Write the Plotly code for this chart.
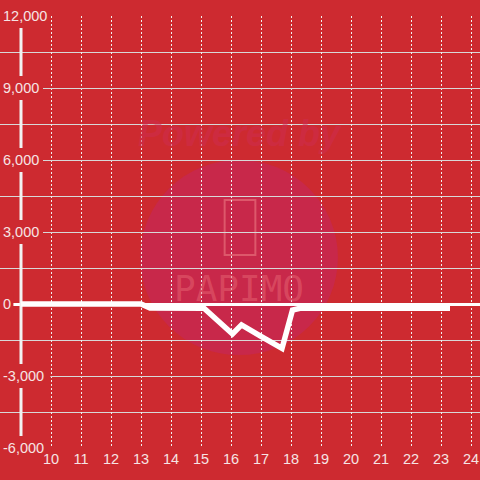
import plotly.graph_objects as go

RED_BG = '#CD2A30'
WHITE = '#FFFFFF'
LABEL = '#F6E4E4'
GRID = '#D8D8D8'

# hour of day vs value
hours = [9.0, 13.0, 13.3, 15.1, 16.05, 16.35, 17.0, 17.7, 18.05, 18.3, 23.3]
values = [0, 0, -170, -180, -1250, -870, -1350, -1850, -250, -180, -180]

x_ticks = list(range(10, 25))
y_ticks = [-6000, -3000, 0, 3000, 6000, 9000, 12000]
y_labels = ['-6,000', '-3,000', '0', '3,000', '6,000', '9,000', '12,000']

X_MIN, X_MAX = 8.3, 24.3
AXIS_X = 9.0

fig = go.Figure()

fig.add_trace(go.Scatter(
    x=hours, y=values,
    mode='lines',
    line=dict(color=WHITE, width=5.5),
    hoverinfo='skip',
    showlegend=False
))

shapes = []

# watermark circle
shapes.append(dict(type='circle', xref='paper', yref='paper',
                   x0=0.292, x1=0.704, y0=0.215, y1=0.667,
                   fillcolor='#C8284A', line=dict(width=0), layer='below'))
# watermark phone outline
shapes.append(dict(type='rect', xref='paper', yref='paper',
                   x0=0.468, x1=0.532, y0=0.447, y1=0.574,
                   fillcolor='rgba(0,0,0,0)', line=dict(color='rgba(235,120,130,0.6)', width=2),
                   layer='below'))

# y axis line
shapes.append(dict(type='line', xref='x', yref='y', x0=AXIS_X, x1=AXIS_X,
                   y0=-6000, y1=12000, line=dict(color='#F2F2F2', width=3), layer='between'))

# red boxes behind the y tick labels
for v, lab in zip(y_ticks, y_labels):
    w = (len(lab) * 7.4 + 6) / 30
    shapes.append(dict(type='rect', xref='x', yref='y', x0=X_MIN, x1=X_MIN + w,
                       y0=v - 500, y1=v + 500, fillcolor=RED_BG,
                       line=dict(width=0), layer='between'))

fig.update_layout(
    width=480, height=480,
    paper_bgcolor=RED_BG,
    plot_bgcolor=RED_BG,
    margin=dict(l=0, r=0, t=16, b=32),
    font=dict(family='Liberation Sans, Arial', size=14.5, color=LABEL),
    shapes=shapes,
    xaxis=dict(
        range=[X_MIN, X_MAX],
        tickvals=x_ticks,
        showgrid=True, gridcolor='#F0F0F0', gridwidth=1, griddash='2px,2px',
        zeroline=False, showline=False, ticks='',
        tickfont=dict(size=14.5, color=LABEL),
    ),
    yaxis=dict(
        range=[-6000, 12000],
        tickvals=y_ticks, ticktext=y_labels,
        ticklabelposition='inside', ticklabeloverflow='allow',
        showgrid=True, gridcolor=GRID, gridwidth=1,
        minor=dict(dtick=1500, tick0=0, showgrid=True, gridcolor=GRID, gridwidth=1),
        zeroline=True, zerolinecolor=WHITE, zerolinewidth=2.5,
        showline=False, ticks='',
        tickfont=dict(size=14.5, color=LABEL),
    ),
    annotations=[
        dict(text='<b><i>Powered by</i></b>', xref='paper', yref='paper', x=0.5, y=0.729,
             xanchor='center', yanchor='middle',
             showarrow=False, font=dict(size=36, color='rgba(205,45,80,0.5)')),
        dict(text='PAPIMO', xref='paper', yref='paper', x=0.498, y=0.370,
             xanchor='center', yanchor='middle',
             showarrow=False, font=dict(size=36, family='DejaVu Sans Mono', color='rgba(235,110,120,0.45)')),
    ],
)

# drop the default page margin so the 480px figure fills the window
fig.write_html('out.html', config={'displayModeBar': False},
               post_script="document.body.style.margin='0';")
